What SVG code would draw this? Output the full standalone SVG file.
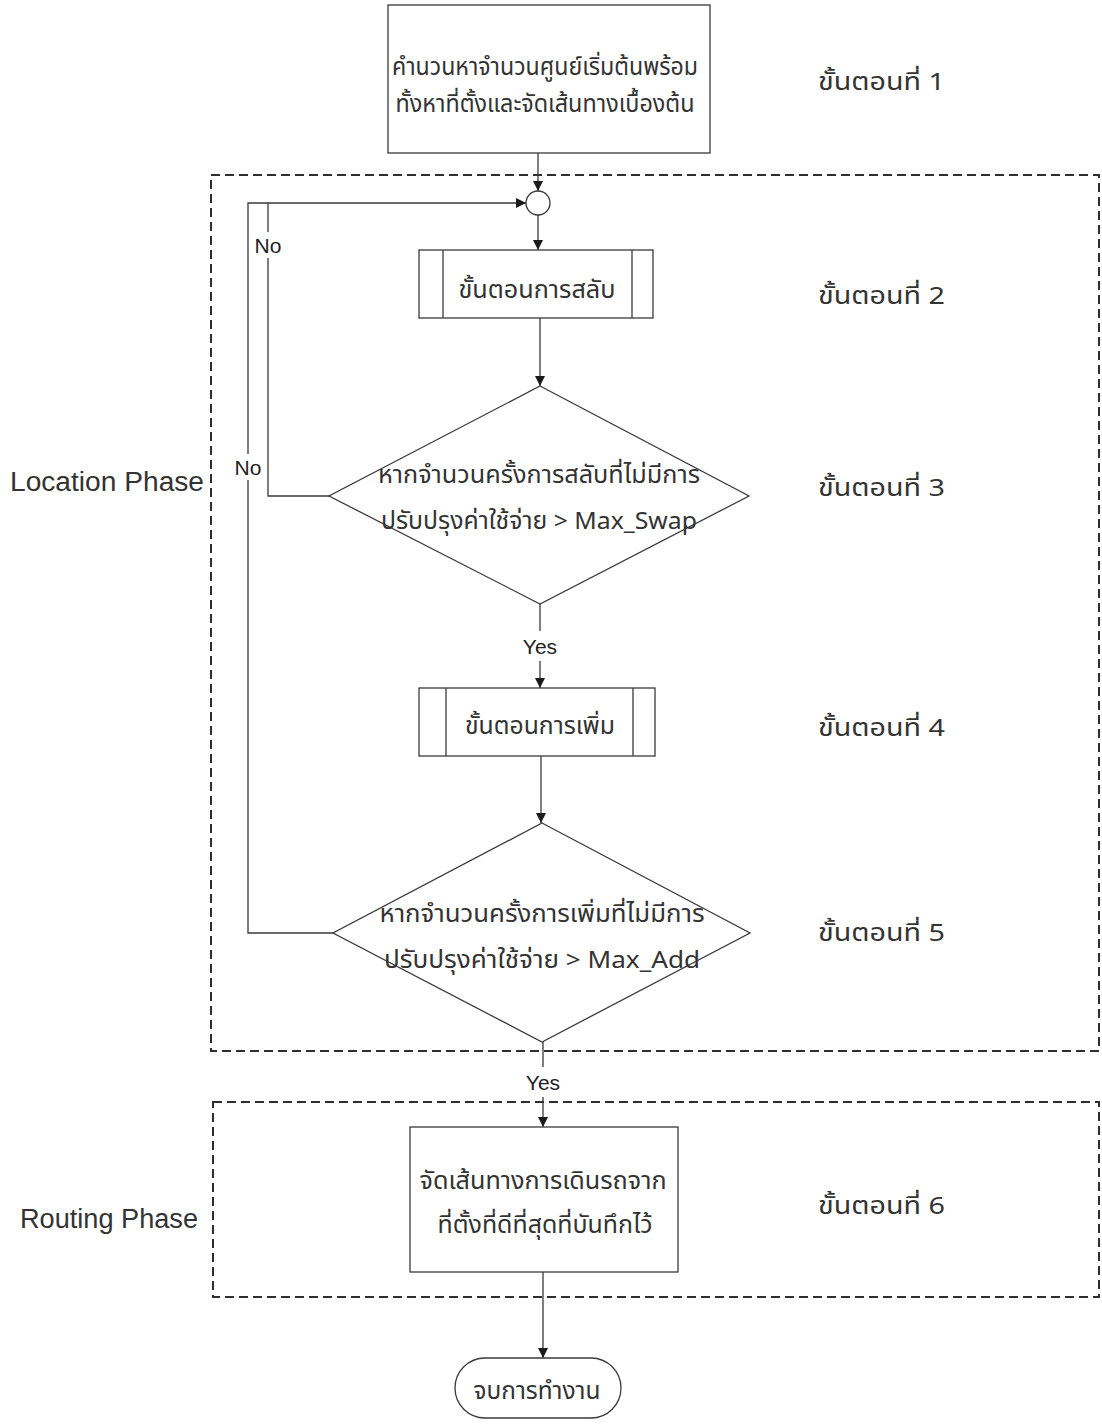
<svg xmlns="http://www.w3.org/2000/svg" width="1102" height="1426" viewBox="0 0 1102 1426">
  <style>
    .bg { fill: #ffffff; }
    .node { fill: #ffffff; stroke: #3a3a3a; stroke-width: 1.3; }
    .inner { fill: none; stroke: #3a3a3a; stroke-width: 1.3; }
    .phase { fill: none; stroke: #2e2e2e; stroke-width: 2; stroke-dasharray: 9 5; }
    .edge { fill: none; stroke: #3a3a3a; stroke-width: 1.3; }
    .th { font-family: "Noto Sans Thai", "Liberation Sans", sans-serif; font-size: 24px; fill: #333333; text-anchor: middle; }
    .step { font-family: "Noto Sans Thai", "Liberation Sans", sans-serif; font-size: 24px; fill: #333333; }
    .lbl { font-family: "Liberation Sans", sans-serif; font-size: 21px; fill: #222222; text-anchor: middle; }
    .phaselbl { font-family: "Liberation Sans", sans-serif; font-size: 27px; fill: #333333; }
  </style>
  <defs>
    <marker id="arrow" viewBox="0 0 10 10" refX="10" refY="5" markerWidth="11" markerHeight="10" markerUnits="userSpaceOnUse" orient="auto">
      <path d="M0,0 L10,5 L0,10 Z" fill="#1a1a1a"/>
    </marker>
  </defs>
  <rect class="bg" x="0" y="0" width="1102" height="1426"/>

  <g id="location-phase">
    <rect class="phase" x="211" y="175" width="888" height="876"/>
    <text class="phaselbl" x="10" y="491" textLength="194" lengthAdjust="spacingAndGlyphs">Location Phase</text>
  </g>
  <g id="routing-phase">
    <rect class="phase" x="213" y="1102" width="886" height="195"/>
    <text class="phaselbl" x="20" y="1228" textLength="178" lengthAdjust="spacingAndGlyphs">Routing Phase</text>
  </g>

  <g id="connectors">
    <line class="edge" x1="538" y1="153" x2="538" y2="191" marker-end="url(#arrow)"/>
    <line class="edge" x1="538" y1="215" x2="538" y2="250" marker-end="url(#arrow)"/>
    <line class="edge" x1="540" y1="318" x2="540" y2="386" marker-end="url(#arrow)"/>
    <polyline class="edge" points="329,496 268,496 268,258"/>
    <polyline class="edge" points="268,232 268,203 526,203" marker-end="url(#arrow)"/>
    <polyline class="edge" points="333,933 248,933 248,480"/>
    <polyline class="edge" points="248,454 248,203 268,203"/>
    <line class="edge" x1="540" y1="604" x2="540" y2="631"/>
    <line class="edge" x1="540" y1="661" x2="540" y2="688" marker-end="url(#arrow)"/>
    <line class="edge" x1="541" y1="756" x2="541" y2="823" marker-end="url(#arrow)"/>
    <line class="edge" x1="543" y1="1042" x2="543" y2="1067"/>
    <line class="edge" x1="543" y1="1097" x2="543" y2="1127" marker-end="url(#arrow)"/>
    <line class="edge" x1="543" y1="1272" x2="543" y2="1358" marker-end="url(#arrow)"/>
    <text class="lbl" x="268" y="253">No</text>
    <text class="lbl" x="248" y="475">No</text>
    <text class="lbl" x="540" y="654">Yes</text>
    <text class="lbl" x="543" y="1090">Yes</text>
  </g>

  <g id="step1">
    <rect class="node" x="388" y="5" width="322" height="148"/>
    <text class="th" x="545" y="75" textLength="306" lengthAdjust="spacingAndGlyphs">คำนวนหาจำนวนศูนย์เริ่มต้นพร้อม</text>
    <text class="th" x="545" y="112" textLength="299" lengthAdjust="spacingAndGlyphs">ทั้งหาที่ตั้งและจัดเส้นทางเบื้องต้น</text>
    <text class="step" x="818" y="90" textLength="127" lengthAdjust="spacingAndGlyphs">ขั้นตอนที่ 1</text>
  </g>

  <g id="merge">
    <circle class="node" cx="538" cy="203" r="12"/>
  </g>

  <g id="step2">
    <rect class="node" x="419" y="250" width="234" height="68"/>
    <line class="inner" x1="443" y1="250" x2="443" y2="318"/>
    <line class="inner" x1="632" y1="250" x2="632" y2="318"/>
    <text class="th" x="537" y="298" textLength="157" lengthAdjust="spacingAndGlyphs">ขั้นตอนการสลับ</text>
    <text class="step" x="818" y="304" textLength="127" lengthAdjust="spacingAndGlyphs">ขั้นตอนที่ 2</text>
  </g>

  <g id="step3">
    <polygon class="node" points="540,386 749,496 540,604 329,496"/>
    <text class="th" x="539" y="483" textLength="322" lengthAdjust="spacingAndGlyphs">หากจำนวนครั้งการสลับที่ไม่มีการ</text>
    <text class="th" x="539" y="529" textLength="316" lengthAdjust="spacingAndGlyphs">ปรับปรุงค่าใช้จ่าย &gt; Max_Swap</text>
    <text class="step" x="818" y="496" textLength="127" lengthAdjust="spacingAndGlyphs">ขั้นตอนที่ 3</text>
  </g>

  <g id="step4">
    <rect class="node" x="419" y="688" width="236" height="68"/>
    <line class="inner" x1="446" y1="688" x2="446" y2="756"/>
    <line class="inner" x1="633" y1="688" x2="633" y2="756"/>
    <text class="th" x="540" y="734" textLength="150" lengthAdjust="spacingAndGlyphs">ขั้นตอนการเพิ่ม</text>
    <text class="step" x="818" y="736" textLength="127" lengthAdjust="spacingAndGlyphs">ขั้นตอนที่ 4</text>
  </g>

  <g id="step5">
    <polygon class="node" points="542,823 750,933 542,1042 333,933"/>
    <text class="th" x="542" y="922" textLength="325" lengthAdjust="spacingAndGlyphs">หากจำนวนครั้งการเพิ่มที่ไม่มีการ</text>
    <text class="th" x="542" y="968" textLength="316" lengthAdjust="spacingAndGlyphs">ปรับปรุงค่าใช้จ่าย &gt; Max_Add</text>
    <text class="step" x="818" y="941" textLength="127" lengthAdjust="spacingAndGlyphs">ขั้นตอนที่ 5</text>
  </g>

  <g id="step6">
    <rect class="node" x="410" y="1127" width="268" height="145"/>
    <text class="th" x="543" y="1189" textLength="247" lengthAdjust="spacingAndGlyphs">จัดเส้นทางการเดินรถจาก</text>
    <text class="th" x="545" y="1233" textLength="215" lengthAdjust="spacingAndGlyphs">ที่ตั้งที่ดีที่สุดที่บันทึกไว้</text>
    <text class="step" x="818" y="1214" textLength="127" lengthAdjust="spacingAndGlyphs">ขั้นตอนที่ 6</text>
  </g>

  <g id="end">
    <rect class="node" x="455" y="1358" width="166" height="60" rx="30" ry="30"/>
    <text class="th" x="537" y="1399" textLength="127" lengthAdjust="spacingAndGlyphs">จบการทำงาน</text>
  </g>
</svg>
